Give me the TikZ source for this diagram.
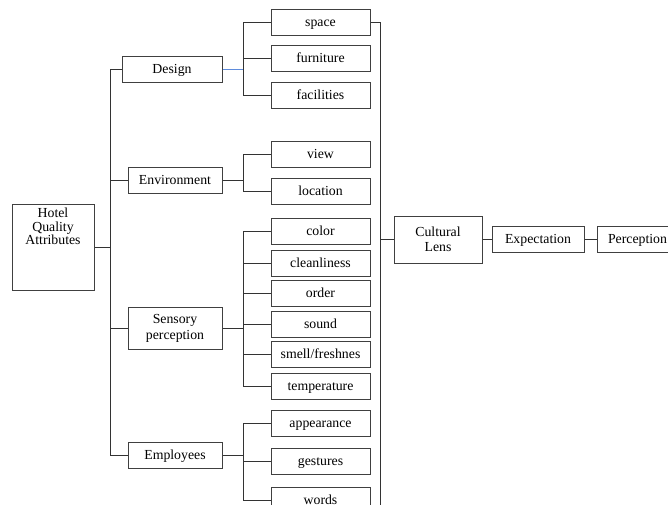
\documentclass[tikz,border=0pt]{standalone}
\usepackage{fontspec}
\setmainfont{Liberation Serif}
\usetikzlibrary{positioning}

\definecolor{linkblue}{RGB}{95,140,220}
\tikzset{
  box/.style={draw=black!75, line width=1pt, fill=white, minimum width=99pt,
    minimum height=26pt, inner sep=1pt, text height=10.5pt, text depth=2pt,
    font=\fontsize{13.8}{15.5}\selectfont},
  tallbox/.style={draw=black!75, line width=1pt, fill=white, inner sep=1pt,
    align=center, font=\fontsize{13.8}{15.5}\selectfont},
  midbox/.style={box, minimum width=94pt},
  conn/.style={draw=black!80, line width=0.9pt},
}

\begin{document}
\begin{tikzpicture}[x=1pt, y=-1pt]
   \clip (0,0) rectangle (668,504);
   \fill[white] (0,0) rectangle (668,504);
   % root
   \node[tallbox, minimum width=82pt, minimum height=86pt] (hotel) at (53,247) {};
   \node[below=3.5pt of hotel.north, align=center, inner sep=1pt,
     font=\fontsize{13.8}{13.5}\selectfont] (hoteltxt) {Hotel\\Quality\\Attributes};
   % attribute groups
   \node[midbox, minimum width=100pt] (design) at (172,69) {Design};
   \node[midbox] (env)  at (175,180) {Environment};
   \node[tallbox, minimum width=94pt, minimum height=42pt] (sens) at (175,328.5) {Sensory\\perception};
   \node[midbox] (empl) at (175,455) {Employees};
   % items
   \node[box] (space)  at (320.5,22)  {space};
   \node[box] (furn)   at (320.5,58)  {furniture};
   \node[box] (facil)  at (320.5,95)  {facilities};
   \node[box] (view)   at (320.5,154) {view};
   \node[box] (loc)    at (320.5,191) {location};
   \node[box] (color)  at (320.5,231) {color};
   \node[box] (clean)  at (320.5,263) {cleanliness};
   \node[box] (order)  at (320.5,293) {order};
   \node[box] (sound)  at (320.5,324) {sound};
   \node[box] (smell)  at (320.5,354.5) {smell/freshnes};
   \node[box] (temp)   at (320.5,386) {temperature};
   \node[box] (appear) at (320.5,423) {appearance};
   \node[box] (gest)   at (320.5,461) {gestures};
   \node[box] (words)  at (320.5,500) {words};
   % outcome chain
   \node[tallbox, minimum width=88pt, minimum height=47pt] (lens) at (438,239.5) {Cultural\\Lens};
   \node[box, minimum width=92pt] (expect) at (538,239) {Expectation};
   \node[box, minimum width=81pt] (perc) at (637.5,239) {Perception};

   \coordinate (trunk) at (110,0);
   \coordinate (br) at (243,0);
   \coordinate (rtrunk) at (380,0);
   \coordinate (rend) at (380,510);

   % root to groups
   \draw[conn] (hotel.east) -- (hotel.east -| trunk);
   \draw[conn] (design.west -| trunk) -- (empl.west -| trunk);
   \foreach \g in {design, env, sens, empl}
     \draw[conn] (\g.west) -- (\g.west -| trunk);
   % groups to items
   \draw[draw=linkblue, line width=0.9pt] (design.east) -- (design.east -| br);
   \draw[conn] (space.west -| br) -- (facil.west -| br);
   \draw[conn] (env.east) -- (env.east -| br);
   \draw[conn] (view.west -| br) -- (loc.west -| br);
   \draw[conn] (sens.east) -- (sens.east -| br);
   \draw[conn] (color.west -| br) -- (temp.west -| br);
   \draw[conn] (empl.east) -- (empl.east -| br);
   \draw[conn] (appear.west -| br) -- (words.west -| br);
   \foreach \i in {space, furn, facil, view, loc, color, clean, order, sound,
                   smell, temp, appear, gest, words}
     \draw[conn] (\i.west) -- (\i.west -| br);
   % items to lens
   \draw[conn] (space.east) -- (space.east -| rtrunk) -- (rend);
   \draw[conn] (lens.west) -- (lens.west -| rtrunk);
   \draw[conn] (lens.east) -- (lens.east -| expect.west);
   \draw[conn] (expect.east) -- (perc.west);
\end{tikzpicture}
\end{document}
